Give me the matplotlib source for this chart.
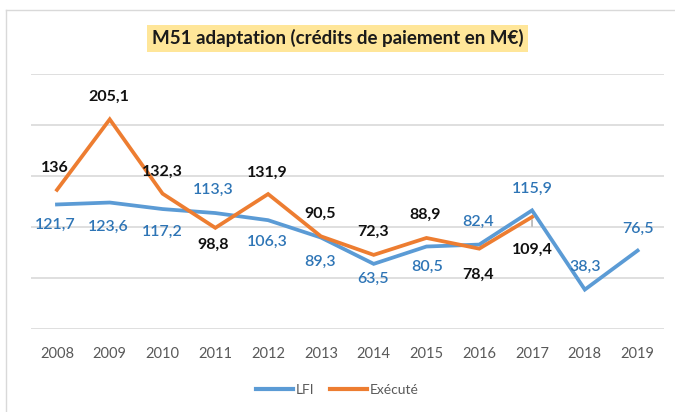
import matplotlib.pyplot as plt
from matplotlib.lines import Line2D

plt.rcParams['font.family'] = ['Lato', 'DejaVu Sans']

# data (M EUR)
years = ['2008', '2009', '2010', '2011', '2012', '2013',
         '2014', '2015', '2016', '2017', '2018', '2019']
lfi = [121.7, 123.6, 117.2, 113.3, 106.3, 89.3, 63.5, 80.5, 82.4, 115.9, 38.3, 76.5]
execute = [136, 205.1, 132.3, 98.8, 131.9, 90.5, 72.3, 88.9, 78.4, 109.4]

# label offsets in pixels (dx, dy), like the manually placed excel labels
lfi_off = [(-2, -20), (-1, -24), (0, -23), (-2, 23), (-1, -22), (-1, -24),
           (-1, -15), (1, -20), (-1, 23), (0, 22), (0, 23), (0, 22)]
exe_off = [(-2, 22), (-1, 23), (0, 22), (-2, -17), (-1, 21), (-1, 23),
           (-1, 23), (-1, 23), (-1, -26), (0, -33)]

blue = '#5B9BD5'
orange = '#ED7D31'
blue_txt = '#2E75B6'

fig = plt.figure(figsize=(6.75, 4.12), dpi=100)
ax = fig.add_axes([0.0453, 0.2022, 0.9384, 0.6194])

x = list(range(len(years)))
ax.plot(x, lfi, color=blue, lw=2.7, solid_joinstyle='miter', zorder=3)
ax.plot(x[:len(execute)], execute, color=orange, lw=2.7,
        solid_joinstyle='miter', zorder=4)

def fmt(v):
    return ('%g' % v).replace('.', ',')

px = 0.72  # pixel -> points at 100 dpi
for i, v in enumerate(lfi):
    dx, dy = lfi_off[i]
    ax.annotate(fmt(v), (i, v), xytext=(dx * px, dy * px),
                textcoords='offset points', ha='center', va='center',
                fontsize=11.5, color=blue_txt, fontweight='semibold', zorder=5)
for i, v in enumerate(execute):
    dx, dy = exe_off[i]
    ax.annotate(fmt(v), (i, v), xytext=(dx * px, dy * px),
                textcoords='offset points', ha='center', va='center',
                fontsize=11.5, color='#111111', fontweight='bold', zorder=5)

# leader line for the 2017 label
i17 = years.index('2017')
ax.annotate('', (i17, execute[i17]), xytext=(0, -12 * px),
            textcoords='offset points',
            arrowprops=dict(arrowstyle='-', color='#A6A6A6', lw=1))

ax.set_xlim(-0.5, len(years) - 0.5)
ax.set_ylim(0, 250)
ax.set_yticks(range(0, 251, 50))
ax.yaxis.grid(True, color='#D9D9D9', lw=1.2)
ax.set_axisbelow(True)
ax.tick_params(axis='y', left=False, labelleft=False)
ax.set_xticks(x)
ax.set_xticklabels(years)
ax.tick_params(axis='x', length=0, pad=13, labelsize=10.5, labelcolor='#595959')
for s in ax.spines.values():
    s.set_visible(False)

# title in a yellow box
fig.text(0.5, 0.907, 'M51 adaptation (crédits de paiement en M€)',
         ha='center', va='center', fontsize=13.5, fontweight='bold',
         color='#1a1a1a',
         bbox=dict(boxstyle='square,pad=0.25', fc='#FFE699', ec='none'))

# legend
handles = [Line2D([], [], color=blue, lw=3),
           Line2D([], [], color=orange, lw=3)]
fig.legend(handles, ['LFI', 'Exécuté'], loc='center', ncol=2,
           bbox_to_anchor=(0.5, 0.053), frameon=False, fontsize=10,
           labelcolor='#595959', handlelength=2.66, handletextpad=0.2,
           columnspacing=1.1)

# chart frame (top and left edges visible)
fig.add_artist(Line2D([6 / 675, 1], [1 - 10 / 412, 1 - 10 / 412],
                      color='#D9D9D9', lw=1))
fig.add_artist(Line2D([6 / 675, 6 / 675], [0, 1 - 10 / 412],
                      color='#D9D9D9', lw=1))

fig.savefig('out.png', dpi=100)
